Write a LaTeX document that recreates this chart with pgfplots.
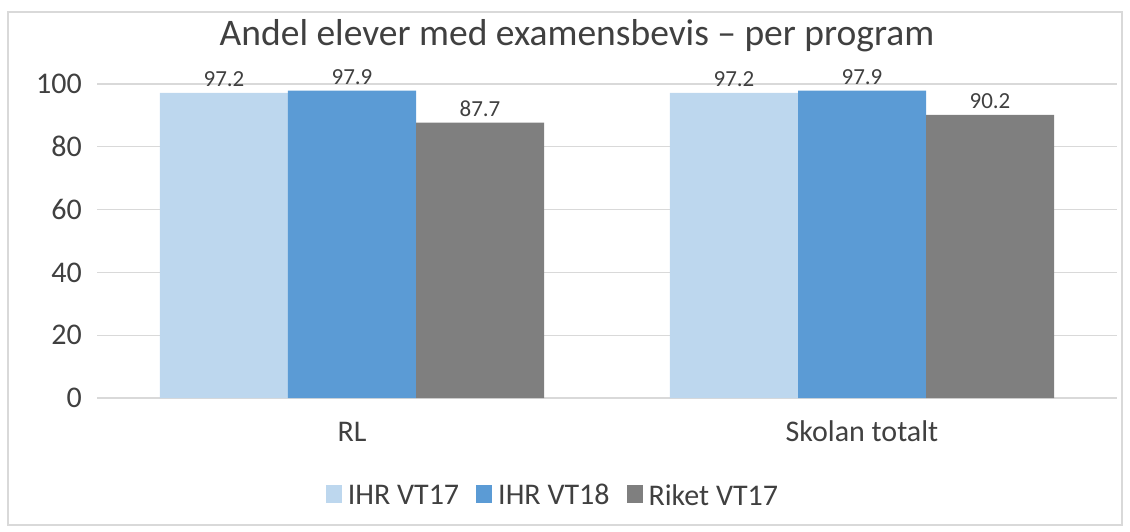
\documentclass[border=0pt]{standalone}
\usepackage{pgfplots}
\pgfplotsset{compat=1.18}
\usepackage{fontspec}
\setmainfont{Carlito}
\definecolor{c1}{HTML}{BDD7EE}
\definecolor{c2}{HTML}{5B9BD5}
\definecolor{c3}{HTML}{7F7F7F}
\definecolor{gridc}{HTML}{D9D9D9}
\definecolor{txt}{HTML}{404040}
\begin{document}
\begin{tikzpicture}[x=1pt,y=1pt]
\path[use as bounding box] (0,0) rectangle (1130,531);
\draw[gridc, line width=1.2pt] (8,6) rectangle (1122,519);
\node[anchor=base, text=txt, font=\fontsize{37.5}{42}\selectfont] at (577,485) {Andel elever med examensbevis – per program};
\begin{axis}[
  at={(97pt,133pt)}, anchor=south west,
  scale only axis, width=1020pt, height=314pt,
  xmin=-0.5, xmax=1.5, ymin=0, ymax=100,
  clip=false,
  ybar=0pt, bar width=128pt,
  axis line style={draw=none},
  major tick length=0pt,
  /pgf/number format/assume math mode=true,
  xtick={0,1}, xticklabels={RL, Skolan totalt},
  ytick={0,20,40,60,80,100},
  ymajorgrids, grid style={gridc, line width=1.2pt},
  tick label style={text=txt, font=\fontsize{30}{34}\selectfont},
  yticklabel style={anchor=east, inner sep=0pt, xshift=-15pt},
  xticklabel style={anchor=base, yshift=-43pt},
  nodes near coords,
  nodes near coords style={text=txt, font=\fontsize{23}{26}\selectfont, anchor=base, yshift=6pt,
    /pgf/number format/.cd, fixed, precision=1, fixed zerofill, assume math mode=true},
  legend columns=3,
  legend style={at={(0.447,-0.31)}, anchor=center, draw=none, fill=none,
    text=txt, font=\fontsize{30}{34}\selectfont,
    /tikz/every odd column/.append style={column sep=4pt},
    /tikz/every even column/.append style={column sep=15pt}},
  legend image code/.code={\fill[#1] (0pt,-8pt) rectangle (16pt,10pt);},
]
\addplot[fill=c1, draw=none] coordinates {(0,97.2) (1,97.2)};
\addplot[fill=c2, draw=none] coordinates {(0,97.9) (1,97.9)};
\addplot[fill=c3, draw=none] coordinates {(0,87.7) (1,90.2)};
\legend{IHR VT17, IHR VT18, Riket VT17}
\end{axis}
\end{tikzpicture}
\end{document}
